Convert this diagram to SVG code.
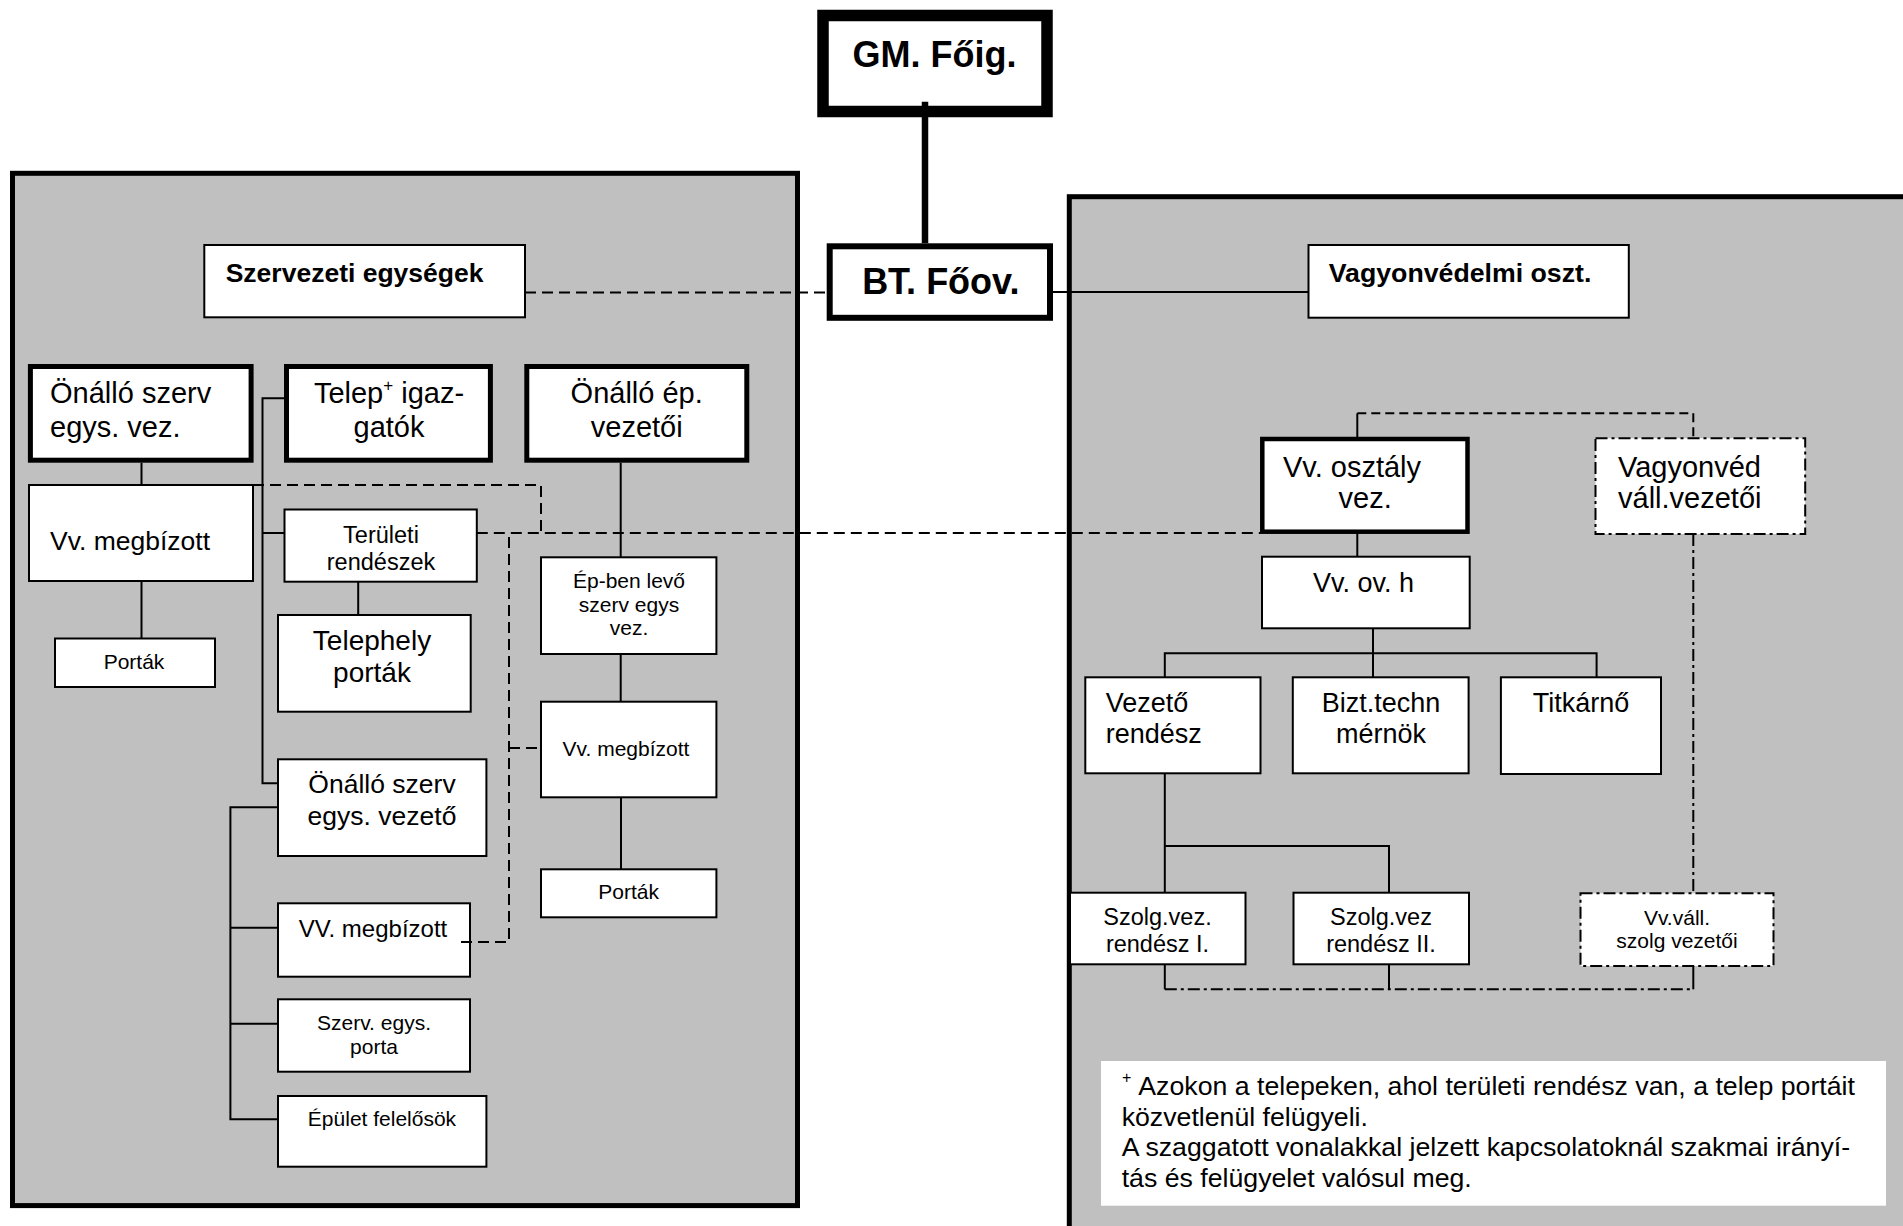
<svg xmlns="http://www.w3.org/2000/svg" width="1903" height="1226" viewBox="0 0 1903 1226">
<style>
.panel{fill:#c0c0c0;stroke:#000;stroke-width:5}
.box{fill:#fff;stroke:#000;stroke-width:2}
.thick{stroke-width:5}
.dd{stroke-dasharray:12 4 3 4}
.t{font-family:"Liberation Sans",Arial,Helvetica,sans-serif;fill:#000}
.b{font-weight:bold}
.c{text-anchor:middle}
.ln{fill:none;stroke:#000;stroke-width:2}
.dash{stroke-dasharray:11 6}
.sdash{stroke-dasharray:9 5}
</style>
<rect width="1903" height="1226" fill="#fff"/>
<g id="panels">
<rect class="panel" x="12.5" y="173.3" width="785" height="1032.3"/>
<rect class="panel" x="1069.3" y="196.7" width="900" height="1100"/>
</g>
<g id="gm">
<rect x="823" y="15.5" width="224" height="96" fill="#fff" stroke="#000" stroke-width="11.5"/>
<text class="t b c" x="934.5" y="66.7" font-size="36">GM. Főig.</text>
</g>
<g id="bt">
<rect x="829.7" y="246.3" width="220.3" height="71.5" fill="#fff" stroke="#000" stroke-width="6"/>
<text class="t b c" x="940.8" y="294" font-size="36">BT. Főov.</text>
</g>
<g id="szervezeti">
<rect class="box" x="204.3" y="245" width="320.7" height="72.3"/>
<text class="t b" x="225.7" y="281.7" font-size="26.5">Szervezeti egységek</text>
</g>
<g id="onallo1">
<rect class="box thick" x="30.4" y="366.5" width="220.7" height="93.7"/>
<text class="t" x="50" y="403.3" font-size="29">Önálló szerv</text>
<text class="t" x="50" y="436.7" font-size="29">egys. vez.</text>
</g>
<g id="telep">
<rect class="box thick" x="286.5" y="366.5" width="203.9" height="93.7"/>
<text class="t c" x="389" y="403.3" font-size="29">Telep<tspan font-size="17" dy="-12">+</tspan><tspan dy="12"> igaz-</tspan></text>
<text class="t c" x="389" y="436.7" font-size="29">gatók</text>
</g>
<g id="onalloep">
<rect class="box thick" x="526.8" y="366.5" width="220" height="93.7"/>
<text class="t c" x="636.7" y="403.3" font-size="29">Önálló ép.</text>
<text class="t c" x="636.7" y="436.7" font-size="29">vezetői</text>
</g>
<g id="vvmeg1">
<rect class="box" x="29" y="485" width="224" height="96"/>
<text class="t" x="50" y="550" font-size="26.5">Vv. megbízott</text>
</g>
<g id="portak1">
<rect class="box" x="55" y="638.5" width="160" height="48.5"/>
<text class="t c" x="134" y="669" font-size="21">Porták</text>
</g>
<g id="teruleti">
<rect class="box" x="284.5" y="509.5" width="192.3" height="72.2"/>
<text class="t c" x="381" y="543.3" font-size="23.5">Területi</text>
<text class="t c" x="381" y="570" font-size="23.5">rendészek</text>
</g>
<g id="telephely">
<rect class="box" x="278" y="615" width="192.7" height="96.7"/>
<text class="t c" x="372" y="650" font-size="28">Telephely</text>
<text class="t c" x="372" y="681.7" font-size="28">porták</text>
</g>
<g id="epben">
<rect class="box" x="541" y="557.3" width="175.4" height="96.7"/>
<text class="t c" x="629" y="588.3" font-size="21">Ép-ben levő</text>
<text class="t c" x="629" y="611.7" font-size="21">szerv egys</text>
<text class="t c" x="629" y="635" font-size="21">vez.</text>
</g>
<g id="vvmeg2">
<rect class="box" x="541" y="701.7" width="175.4" height="95.6"/>
<text class="t c" x="626" y="756" font-size="21">Vv. megbízott</text>
</g>
<g id="portak2">
<rect class="box" x="541" y="869.3" width="175.4" height="48"/>
<text class="t c" x="628.6" y="899.3" font-size="21">Porták</text>
</g>
<g id="onallo2">
<rect class="box" x="278" y="759.3" width="208.4" height="96.7"/>
<text class="t c" x="382" y="793.3" font-size="26.5">Önálló szerv</text>
<text class="t c" x="382" y="825" font-size="26.5">egys. vezető</text>
</g>
<g id="vvmeg3">
<rect class="box" x="278" y="903.3" width="192" height="73.4"/>
<text class="t c" x="373" y="936.7" font-size="24">VV. megbízott</text>
</g>
<g id="szervporta">
<rect class="box" x="278" y="999.3" width="192" height="72.4"/>
<text class="t c" x="374" y="1030" font-size="21">Szerv. egys.</text>
<text class="t c" x="374" y="1054.3" font-size="21">porta</text>
</g>
<g id="epulet">
<rect class="box" x="278" y="1096" width="208.4" height="70.7"/>
<text class="t c" x="382" y="1126" font-size="21">Épület felelősök</text>
</g>
<g id="vagyonvedelmi">
<rect class="box" x="1308.5" y="245" width="320.3" height="72.7"/>
<text class="t b" x="1328.8" y="281.7" font-size="26.7">Vagyonvédelmi oszt.</text>
</g>
<g id="vvosztaly">
<rect class="box" x="1262.3" y="439" width="205.2" height="92.7" style="stroke-width:4.5"/>
<text class="t" x="1283" y="476.7" font-size="29">Vv. osztály</text>
<text class="t" x="1338.5" y="508.3" font-size="29">vez.</text>
</g>
<g id="vagyonved">
<rect class="box dd" x="1595.5" y="438.3" width="209.7" height="95.7"/>
<text class="t" x="1618" y="476.7" font-size="29">Vagyonvéd</text>
<text class="t" x="1618" y="508.3" font-size="29">váll.vezetői</text>
</g>
<g id="vvovh">
<rect class="box" x="1262" y="556.7" width="207.7" height="71.6"/>
<text class="t" x="1313" y="592" font-size="27">Vv. ov. h</text>
</g>
<g id="vezeto">
<rect class="box" x="1085.3" y="677.3" width="175.2" height="96"/>
<text class="t" x="1105.7" y="711.7" font-size="27">Vezető</text>
<text class="t" x="1105.7" y="742.7" font-size="27">rendész</text>
</g>
<g id="bizt">
<rect class="box" x="1292.8" y="677.3" width="175.8" height="96"/>
<text class="t c" x="1381" y="711.7" font-size="27">Bizt.techn</text>
<text class="t c" x="1381" y="742.7" font-size="27">mérnök</text>
</g>
<g id="titkarno">
<rect class="box" x="1500.9" y="677.3" width="160.1" height="96.7"/>
<text class="t c" x="1581" y="711.7" font-size="27">Titkárnő</text>
</g>
<g id="szolg1">
<rect class="box" x="1070" y="892.7" width="175.5" height="71.6"/>
<text class="t c" x="1157.5" y="925" font-size="23.5">Szolg.vez.</text>
<text class="t c" x="1157.5" y="951.7" font-size="23.5">rendész I.</text>
</g>
<g id="szolg2">
<rect class="box" x="1293.5" y="892.7" width="175.5" height="71.6"/>
<text class="t c" x="1381" y="925" font-size="23.5">Szolg.vez</text>
<text class="t c" x="1381" y="951.7" font-size="23.5">rendész II.</text>
</g>
<g id="vvvall">
<rect class="box dd" x="1580.5" y="893.3" width="193" height="72.7"/>
<text class="t c" x="1677" y="925" font-size="21">Vv.váll.</text>
<text class="t c" x="1677" y="948.3" font-size="21">szolg vezetői</text>
</g>
<g id="footnote">
<rect x="1101" y="1061" width="785" height="144.7" fill="#fff"/>
<text class="t" x="1122" y="1095" font-size="26.7"><tspan font-size="16" dy="-12">+</tspan><tspan x="1138.3" dy="12">Azokon a telepeken, ahol területi rendész van, a telep portáit</tspan></text>
<text class="t" x="1121.7" y="1126" font-size="26.7">közvetlenül felügyeli.</text>
<text class="t" x="1121.7" y="1156" font-size="26.7">A szaggatott vonalakkal jelzett kapcsolatoknál szakmai irányí-</text>
<text class="t" x="1121.7" y="1186.7" font-size="26.7">tás és felügyelet valósul meg.</text>
</g>
<g id="connectors">
<path class="ln" d="M925,101.7 V243.3" style="stroke-width:6.5"/>
<path class="ln dash" d="M525,292.5 H826.7"/>
<path class="ln" d="M1052.7,292 H1308.5"/>
<path class="ln" d="M141.5,462.7 V485"/>
<path class="ln" d="M141.5,581 V638.5"/>
<path class="ln" d="M284,398.3 H262.5 V783.3 H278"/>
<path class="ln" d="M262.5,533 H284.5"/>
<path class="ln" d="M278,807.3 H230.4 V1119.3 H278"/>
<path class="ln" d="M230.4,927.7 H278"/>
<path class="ln" d="M230.4,1023.7 H278"/>
<path class="ln" d="M358.2,581.7 V615"/>
<path class="ln" d="M620.7,462.7 V557.3"/>
<path class="ln" d="M620.7,654 V701.7"/>
<path class="ln" d="M621,797.3 V869.3"/>
<path class="ln dash" d="M476.8,533 H1260"/>
<path class="ln dash" d="M236,485 H541 V533"/>
<path class="ln dash" d="M461,942 H509 V533"/>
<path class="ln dash" d="M509,748 H541"/>
<path class="ln" d="M1357.3,437 V413.3"/>
<path class="ln sdash" d="M1357.3,413.3 H1693.3 V438.3"/>
<path class="ln" d="M1357.3,531.7 V556.7"/>
<path class="ln" d="M1373,628.3 V677.3"/>
<path class="ln" d="M1164.8,677.3 V653.3 H1596.6 V677.3"/>
<path class="ln" d="M1164.8,773.3 V892.7"/>
<path class="ln" d="M1164.8,846 H1389 V892.7"/>
<path class="ln dd" d="M1693.3,534 V893.3"/>
<path class="ln" d="M1164.8,964.3 V989.3"/>
<path class="ln" d="M1389,964.3 V989.3"/>
<path class="ln" d="M1693.3,966 V989.3"/>
<path class="ln dd" d="M1164.8,989.3 H1693.3"/>
</g>
</svg>
